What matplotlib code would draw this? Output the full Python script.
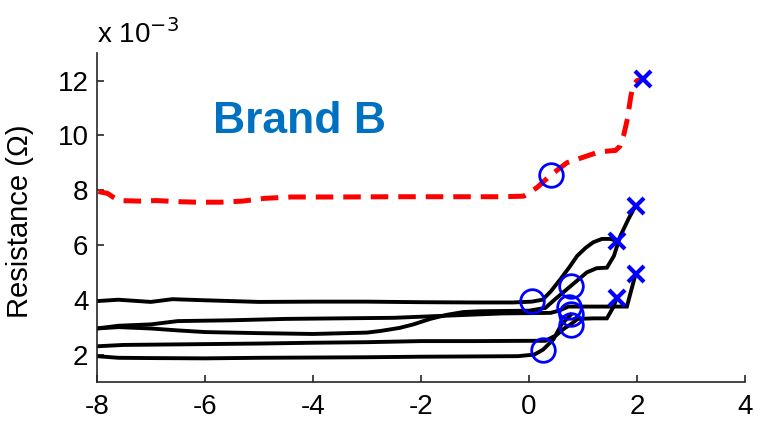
import matplotlib.pyplot as plt
import numpy as np

plt.rcParams['font.family'] = ['Liberation Sans', 'DejaVu Sans']
plt.rcParams['axes.unicode_minus'] = False

# resistance traces, values in units of 1e-3 ohm
red_x = [-7.97, -7.8, -7.6, -7.2, -6.9, -6.5, -6.15, -5.7, -5.3, -4.9, -4.4, -3.5,
         -2.5, -1.5, -0.5, -0.1, 0.15, 0.4, 0.7, 1.0, 1.3, 1.6, 1.68, 1.75, 1.82,
         1.88, 1.93, 2.0, 2.1]
red_y = [7.95, 7.88, 7.62, 7.6, 7.62, 7.58, 7.56, 7.56, 7.6, 7.7, 7.75, 7.75,
         7.76, 7.76, 7.76, 7.78, 8.1, 8.55, 9.0, 9.2, 9.4, 9.45, 9.6, 10.0, 10.6,
         11.4, 11.85, 12.0, 12.05]

a_x = [-8, -7.6, -7.0, -6.6, -6.0, -5.5, -5.0, -4.0, -3.0, -2.0, -1.0, -0.3, 0.05,
       0.25, 0.4, 0.58, 0.75, 0.89, 1.05, 1.19, 1.35, 1.5, 1.63]
a_y = [3.95, 4.0, 3.92, 4.02, 3.98, 3.95, 3.92, 3.93, 3.93, 3.91, 3.9, 3.9, 3.93,
       4.0, 4.3, 4.75, 5.2, 5.6, 5.9, 6.1, 6.22, 6.22, 6.15]

b_x = [-8, -7.6, -7.0, -6.5, -5.5, -4.5, -3.5, -2.5, -1.5, -0.5, 0.4, 0.55, 0.73,
       1.2, 1.81, 1.97]
b_y = [2.95, 3.05, 3.1, 3.22, 3.25, 3.3, 3.32, 3.34, 3.42, 3.5, 3.52, 3.6, 3.75,
       3.75, 3.75, 4.93]

c_x = [-8, -7.6, -7.0, -6.5, -6.0, -5.0, -4.0, -3.0, -2.75, -2.4, -2.14, -1.83,
       -1.52, -1.22, -0.9, 0.0, 0.3, 0.5, 0.77, 1.07, 1.25, 1.44, 1.57, 1.69,
       1.84, 1.97]
c_y = [2.95, 3.0, 2.95, 2.88, 2.82, 2.78, 2.75, 2.8, 2.86, 2.97, 3.1, 3.3, 3.45,
       3.55, 3.58, 3.6, 3.7, 4.05, 4.5, 5.0, 5.15, 5.17, 5.6, 6.33, 6.95, 7.43]

d_x = [-8, -7.5, -7, -6, -5, -4, -3, -2, -1, 0, 0.3, 0.5, 0.65, 0.77, 0.9, 1.2,
       1.44, 1.55, 1.63]
d_y = [2.3, 2.35, 2.36, 2.38, 2.4, 2.43, 2.45, 2.49, 2.49, 2.5, 2.5, 2.7, 2.95,
       3.1, 3.3, 3.32, 3.32, 3.7, 4.08]

e_x = [-8, -7.6, -7, -6, -5, -4, -3, -2, -1, -0.2, 0.1, 0.26, 0.45, 0.6, 0.77]
e_y = [1.94, 1.88, 1.87, 1.86, 1.88, 1.89, 1.9, 1.92, 1.93, 1.94, 2.0, 2.18,
       2.55, 3.1, 3.45]

# onset (circles) and failure (crosses) points
onset_x = [0.4, 0.05, 0.77, 0.73, 0.77, 0.77, 0.26]
onset_y = [8.55, 3.95, 4.5, 3.75, 3.47, 3.08, 2.18]
fail_x = [2.1, 1.63, 1.97, 1.97, 1.63]
fail_y = [12.05, 6.15, 7.43, 4.93, 4.08]

fig = plt.figure(figsize=(7.62, 4.22), dpi=100)
ax = fig.add_axes([0.127, 0.095, 0.851, 0.779])

for xs, ys in [(a_x, a_y), (b_x, b_y), (c_x, c_y), (d_x, d_y), (e_x, e_y)]:
    ax.plot(xs, ys, color='black', lw=2.8, solid_joinstyle='miter')
ax.plot(red_x, red_y, color='#ff0000', lw=3.6, linestyle=(0, (3.5, 2.0)))

ax.plot(onset_x, onset_y, 'o', mfc='none', mec='#0000ff', ms=17, mew=2)
ax.plot(fail_x, fail_y, 'x', color='#0000ff', ms=12, mew=3)

ax.set_xlim(-8, 4)
ax.set_ylim(1, 13)
ax.set_xticks(np.arange(-8, 5, 2))
ax.set_yticks(np.arange(2, 13, 2))
ax.spines['top'].set_visible(False)
ax.spines['right'].set_visible(False)
for s in ['left', 'bottom']:
    ax.spines[s].set_linewidth(1.2)
    ax.spines[s].set_color('#262626')
ax.tick_params(direction='in', length=5, width=1.2, color='#262626',
               labelsize=20)
ax.tick_params(axis='x', pad=9)
ax.tick_params(axis='y', pad=6)

ax.set_ylabel('Resistance (\u03a9)', fontsize=21)
ax.yaxis.set_label_coords(-0.097, 0.49)
ax.text(0.0, 1.03, 'x 10$^{-3}$', transform=ax.transAxes, fontsize=20,
        ha='left', va='baseline')
ax.text(-4.24, 10.5, 'Brand B', color='#0070c0', fontsize=32,
        fontweight='bold', ha='center', va='center')

fig.savefig('out.png', dpi=100)
